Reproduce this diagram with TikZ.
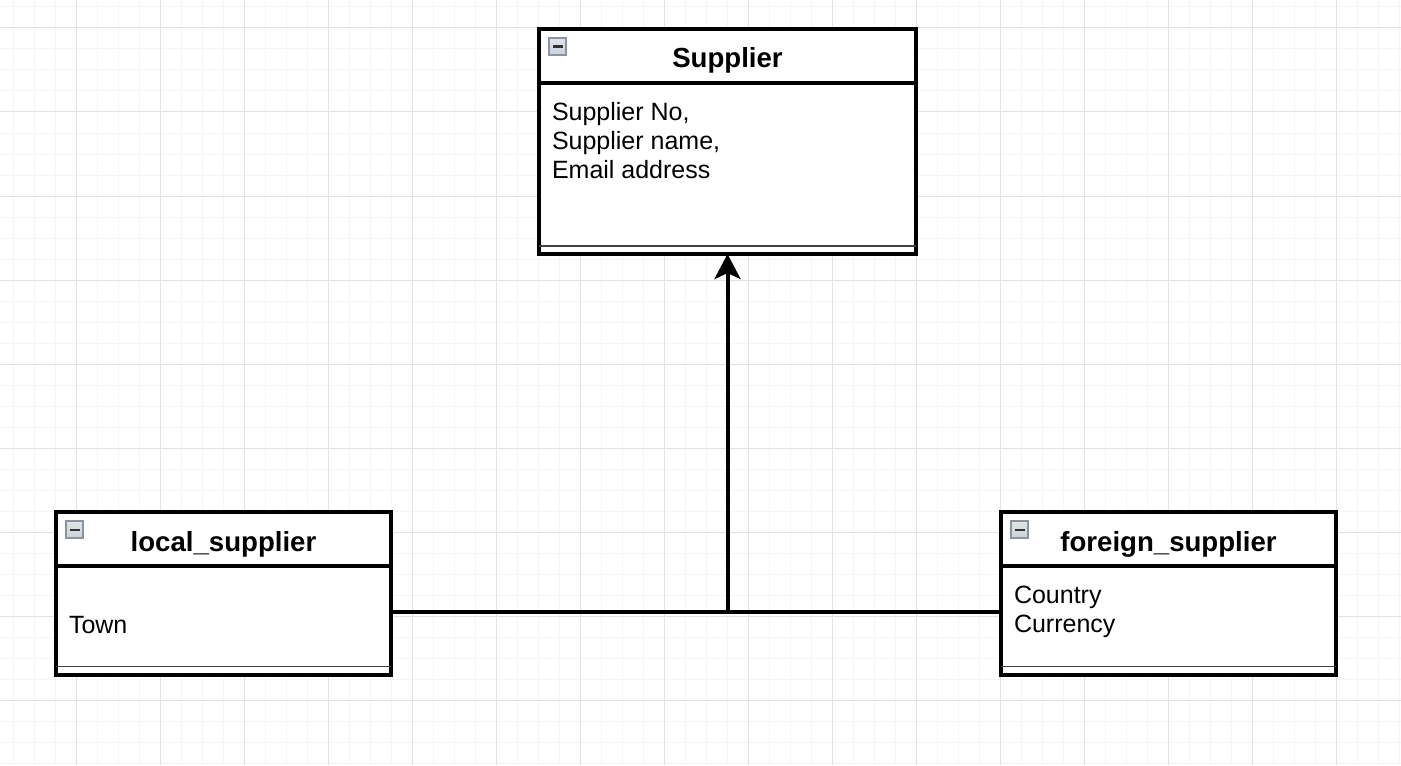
\documentclass[tikz,border=0pt]{standalone}
\usepackage{fontspec}
\setmainfont{Liberation Sans}
\usetikzlibrary{arrows.meta}
\definecolor{gridmajor}{HTML}{E2E2E2}
\definecolor{gridminor}{HTML}{F5F5F5}
\definecolor{iconfill}{HTML}{CBD2DA}
\definecolor{iconline}{HTML}{8A949E}
\tikzset{
	classhead/.style={draw,line width=2pt,fill=white,inner sep=0,outer sep=0,minimum height=27pt,text height=12pt,text depth=0pt,font=\fontsize{13.8}{16}\selectfont\bfseries},
	classbody/.style={draw,line width=2pt,fill=white,inner sep=0,outer sep=0},
	attr/.style={inner sep=0,outer sep=0,font=\fontsize{12.5}{14.5}\selectfont},
	sepline/.style={line width=0.6pt,black!75},
	icon/.style={top color=iconfill!60,bottom color=iconfill,draw=iconline,line width=0.6pt},
	conn/.style={line width=2pt}
}

\begin{document}
\begin{tikzpicture}[x=0.5pt,y=-0.5pt]
	\useasboundingbox (0,0) rectangle (1401,765);
	\fill[white] (0,0) rectangle (1401,765);
	% grid
	\foreach \x in {13,34,...,1399} \draw[gridminor,line width=0.5pt] (\x,0) -- (\x,765);
	\foreach \y in {7,28,...,763} \draw[gridminor,line width=0.5pt] (0,\y) -- (1401,\y);
	\foreach \x in {76,160,...,1400} \draw[gridmajor,line width=0.5pt] (\x,0) -- (\x,765);
	\foreach \y in {28,112,...,764} \draw[gridmajor,line width=0.5pt] (0,\y) -- (1401,\y);

	% classes
	\node[classhead,minimum width=188.5pt,anchor=north] (supplier) at (727.5,29) {Supplier};
	\node[classbody,minimum width=188.5pt,minimum height=85.5pt,anchor=north] (supplierbody) at (supplier.south) {};
	\node[classhead,minimum width=167.5pt,anchor=north] (local) at (223.5,512) {local\_supplier};
	\node[classbody,minimum width=167.5pt,minimum height=54.25pt,anchor=north] (localbody) at (local.south) {};
	\node[classhead,minimum width=167.5pt,anchor=north] (foreign) at (1168.5,512) {foreign\_supplier};
	\node[classbody,minimum width=167.5pt,minimum height=54.25pt,anchor=north] (foreignbody) at (foreign.south) {};

	\node[attr,anchor=base west] (supplierattrs) at ([shift={(6.5pt,-18.5pt)}]supplierbody.north west) {\parbox[t]{160pt}{Supplier No,\\Supplier name,\\Email address}};
	\node[attr,anchor=base west] (localattrs) at ([shift={(6.5pt,-33.5pt)}]localbody.north west) {Town};
	\node[attr,anchor=base west] (foreignattrs) at ([shift={(6.5pt,-18.5pt)}]foreignbody.north west) {\parbox[t]{140pt}{Country\\Currency}};

	\foreach \c in {supplier,local,foreign}{
		\draw[icon] ([shift={(5pt,-4.5pt)}]\c.north west) rectangle ++(17,17);
		\draw[line width=1.1pt,black!80] ([shift={(6.8pt,-8.8pt)}]\c.north west) -- ++(10,0);
		\draw[sepline] ([yshift=4pt]\c body.south west) -- ([yshift=4pt]\c body.south east);
	}

	% generalisation
	\coordinate (junction) at (727.5,612);
	\draw[conn] (localbody.east |- junction) -- (foreignbody.west |- junction);
	\draw[conn,-{Stealth[length=12.5pt,width=13pt,inset=3pt]}] (junction) -- (supplierbody.south);
\end{tikzpicture}
\end{document}
